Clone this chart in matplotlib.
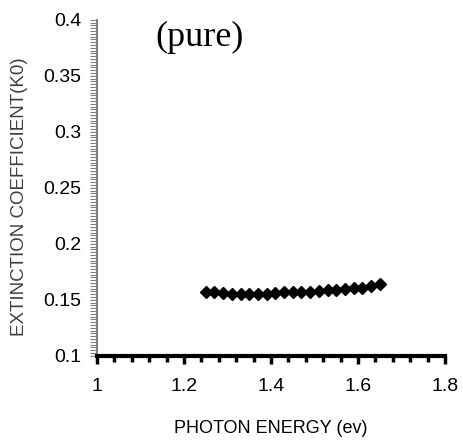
import numpy as np
import matplotlib
matplotlib.use("Agg")
import matplotlib.pyplot as plt
from matplotlib.ticker import MultipleLocator

# data
energy = [1.25, 1.27, 1.29, 1.31, 1.33, 1.35, 1.37, 1.39, 1.41, 1.43, 1.45,
          1.47, 1.49, 1.51, 1.53, 1.55, 1.57, 1.59, 1.61, 1.63, 1.65]
k0 = [0.157, 0.157, 0.156, 0.155, 0.155, 0.155, 0.155, 0.155, 0.156, 0.157, 0.157,
      0.157, 0.157, 0.158, 0.159, 0.159, 0.160, 0.161, 0.161, 0.162, 0.164]
xticks = [1, 1.2, 1.4, 1.6, 1.8]
yticks = [0.1, 0.15, 0.2, 0.25, 0.3, 0.35, 0.4]

plt.rcParams['font.family'] = ['Liberation Sans', 'DejaVu Sans']

fig = plt.figure(figsize=(4.64, 4.42), dpi=100)
ax = fig.add_axes([0.209, 0.195, 0.75, 0.76])

ax.plot(energy, k0, '-D', color='black', markersize=6, linewidth=1.5)

ax.set_xlim(1, 1.8)
ax.set_ylim(0.1, 0.4)
ax.set_xticks(xticks)
ax.set_xticklabels(['1', '1.2', '1.4', '1.6', '1.8'])
ax.set_yticks(yticks)
ax.set_yticklabels(['0.1', '0.15', '0.2', '0.25', '0.3', '0.35', '0.4'])
ax.xaxis.set_minor_locator(MultipleLocator(0.04))
ax.yaxis.set_minor_locator(MultipleLocator(0.0025))

for s in ['top', 'right']:
    ax.spines[s].set_visible(False)
ax.spines['bottom'].set_linewidth(3)
ax.spines['bottom'].set_color('black')
ax.spines['left'].set_linewidth(1.5)
ax.spines['left'].set_color('#808080')

ax.tick_params(axis='x', which='major', length=6, width=2.5, color='black',
               labelsize=14, pad=10)
ax.tick_params(axis='x', which='minor', length=4, width=2.5, color='black')
ax.tick_params(axis='y', which='both', length=5, width=0.8, color='#808080',
               labelsize=14, pad=6)

ax.set_xlabel('PHOTON ENERGY (ev)', fontsize=13)
ax.xaxis.set_label_coords(0.5, -0.19)
ax.set_ylabel('EXTINCTION COEFFICIENT(K0)', fontsize=13.5, color='#404040')
ax.yaxis.set_label_coords(-0.198, 0.473)

fig.text(0.431, 0.916, '(pure)', fontsize=26, family=['Liberation Serif', 'DejaVu Serif'],
         ha='center', va='center')

fig.savefig('out.png', dpi=100)
